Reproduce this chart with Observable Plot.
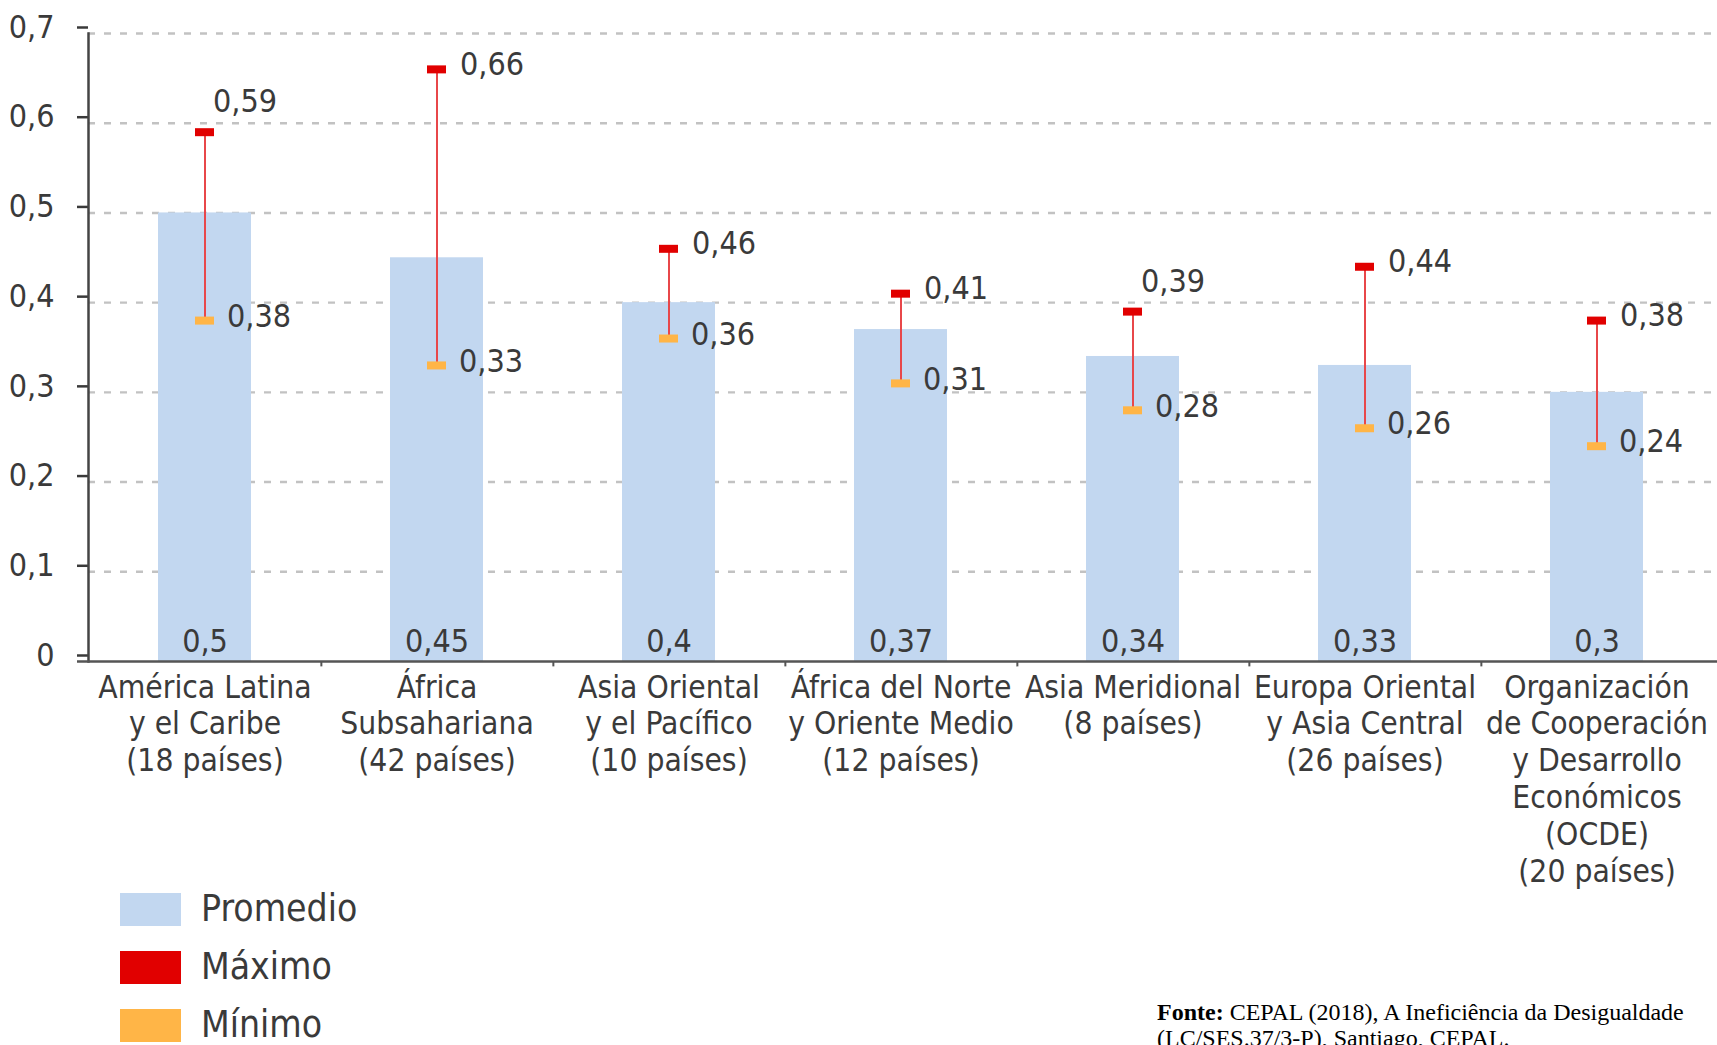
<!DOCTYPE html>
<html><head><meta charset="utf-8">
<script src="https://cdn.jsdelivr.net/npm/d3@7"></script>
<script src="https://cdn.jsdelivr.net/npm/@observablehq/plot@0.6"></script>
<style>
body{margin:0;background:#fff;}
#wrap{position:relative;width:1717px;height:1045px;overflow:hidden;background:#fff;
  font-family:"DejaVu Sans Condensed","Liberation Sans Narrow",sans-serif;color:#3a3a3a;}
#legend{position:absolute;left:120px;top:880px;}
#legend .row{display:flex;align-items:center;height:58px;}
#legend .sw{width:61px;height:33px;margin-right:20px;}
#legend .lab{font-size:37px;line-height:40px;}
#source{position:absolute;left:1157px;top:999px;font-family:"Liberation Serif","Times New Roman",serif;
  font-size:24px;line-height:26px;color:#000;white-space:nowrap;}
</style></head><body>
<div id="wrap"><div id="chart"></div><div id="legend"></div><div id="source"></div></div>
<script>
const categories = [
  "América Latina\ny el Caribe\n(18 países)",
  "África\nSubsahariana\n(42 países)",
  "Asia Oriental\ny el Pacífico\n(10 países)",
  "África del Norte\ny Oriente Medio\n(12 países)",
  "Asia Meridional\n(8 países)",
  "Europa Oriental\ny Asia Central\n(26 países)",
  "Organización\nde Cooperación\ny Desarrollo\nEconómicos\n(OCDE)\n(20 países)"
];
const promedio = [0.5, 0.45, 0.4, 0.37, 0.34, 0.33, 0.3];
const maximo   = [0.59, 0.66, 0.46, 0.41, 0.39, 0.44, 0.38];
const minimo   = [0.38, 0.33, 0.36, 0.31, 0.28, 0.26, 0.24];
const yTicks   = [0, 0.1, 0.2, 0.3, 0.4, 0.5, 0.6, 0.7];
const legendLabels = ["Promedio", "Máximo", "Mínimo"];
const sourceBold = "Fonte:";
const sourceLines = ["CEPAL (2018), A Ineficiência da Desigualdade", "(LC/SES.37/3-P), Santiago, CEPAL."];

// categories whose maximum label sits above the marker instead of to its right
const maxLabelAbove = [categories[0], categories[4]];

const colBar = "#c2d7f0", colMax = "#e10000", colMin = "#ffb547", colRange = "#e8474a";
const fmt = d => String(d).replace(".", ",");

const rows = categories.map((c, i) => ({cat: c, prom: promedio[i], max: maximo[i], min: minimo[i]}));

const W = 1717, H = 885, mL = 88, mR = 0, mT = 33, mB = 224;
const xRange = [86, 1715];
const step = (xRange[1] - xRange[0]) / categories.length;
const textColor = "#3a3a3a";
const fontNum = 32, fontCat = 31.5;
const family = '"DejaVu Sans Condensed","Liberation Sans Narrow",sans-serif';

const chart = Plot.plot({
  width: W, height: H,
  marginLeft: mL, marginRight: mR, marginTop: mT, marginBottom: mB,
  style: {fontFamily: family, fontSize: fontNum + "px", color: textColor, background: "#fff", overflow: "visible"},
  x: {domain: categories, range: xRange, paddingInner: 0.6, paddingOuter: 0.3, label: null},
  y: {domain: [0, 0.7], label: null},
  marks: [
    Plot.ruleY(yTicks.slice(1), {stroke: "#c2c2c2", strokeWidth: 2.4, strokeDasharray: "7,9"}),
    Plot.barY(rows, {x: "cat", y: "prom", fill: colBar}),
    Plot.ruleX(rows, {x: "cat", y1: "min", y2: "max", stroke: colRange, strokeWidth: 2}),
    Plot.tickY(rows, {x: "cat", y: "max", stroke: colMax, strokeWidth: 8, insetLeft: 37, insetRight: 37}),
    Plot.tickY(rows, {x: "cat", y: "min", stroke: colMin, strokeWidth: 8, insetLeft: 37, insetRight: 37}),
    Plot.text(rows, {x: "cat", y: 0, text: d => fmt(d.prom), dy: -20, fontSize: fontNum, fill: textColor}),
    Plot.text(rows.filter(d => !maxLabelAbove.includes(d.cat)), {x: "cat", y: "max", text: d => fmt(d.max), textAnchor: "start", dx: 23, dy: -5, fontSize: fontNum, fill: textColor}),
    Plot.text(rows.filter(d => maxLabelAbove.includes(d.cat)), {x: "cat", y: "max", text: d => fmt(d.max), textAnchor: "start", dx: 8, dy: -30, fontSize: fontNum, fill: textColor}),
    Plot.text(rows, {x: "cat", y: "min", text: d => fmt(d.min), textAnchor: "start", dx: 22, dy: -4, fontSize: fontNum, fill: textColor}),
    Plot.ruleX(rows.slice(0, -1), {x: "cat", dx: step / 2, y1: 0, y2: -0.006, stroke: "#555", strokeWidth: 2}),
    Plot.axisY({ticks: yTicks, tickFormat: fmt, tickSize: 11, tickPadding: 23, dy: -6, fontSize: fontNum, strokeWidth: 2.5, label: null}),
    Plot.axisX({tickSize: 0, tickPadding: 10, fontSize: fontCat, lineHeight: 36.8 / fontCat, label: null}),
    Plot.frame({anchor: "left", stroke: "#444", strokeWidth: 2.5}),
    Plot.ruleY([0], {stroke: "#555", strokeWidth: 2.5, insetLeft: -11})
  ]
});
document.getElementById("chart").appendChild(chart);

const legendColors = [colBar, colMax, colMin];
const lg = document.getElementById("legend");
legendLabels.forEach((l, i) => {
  const r = document.createElement("div"); r.className = "row";
  const s = document.createElement("div"); s.className = "sw"; s.style.background = legendColors[i];
  const t = document.createElement("div"); t.className = "lab"; t.textContent = l;
  r.appendChild(s); r.appendChild(t); lg.appendChild(r);
});
const src = document.getElementById("source");
const b = document.createElement("b"); b.textContent = sourceBold;
src.appendChild(b);
src.appendChild(document.createTextNode(" " + sourceLines[0]));
src.appendChild(document.createElement("br"));
src.appendChild(document.createTextNode(sourceLines[1]));
</script>
</body></html>
